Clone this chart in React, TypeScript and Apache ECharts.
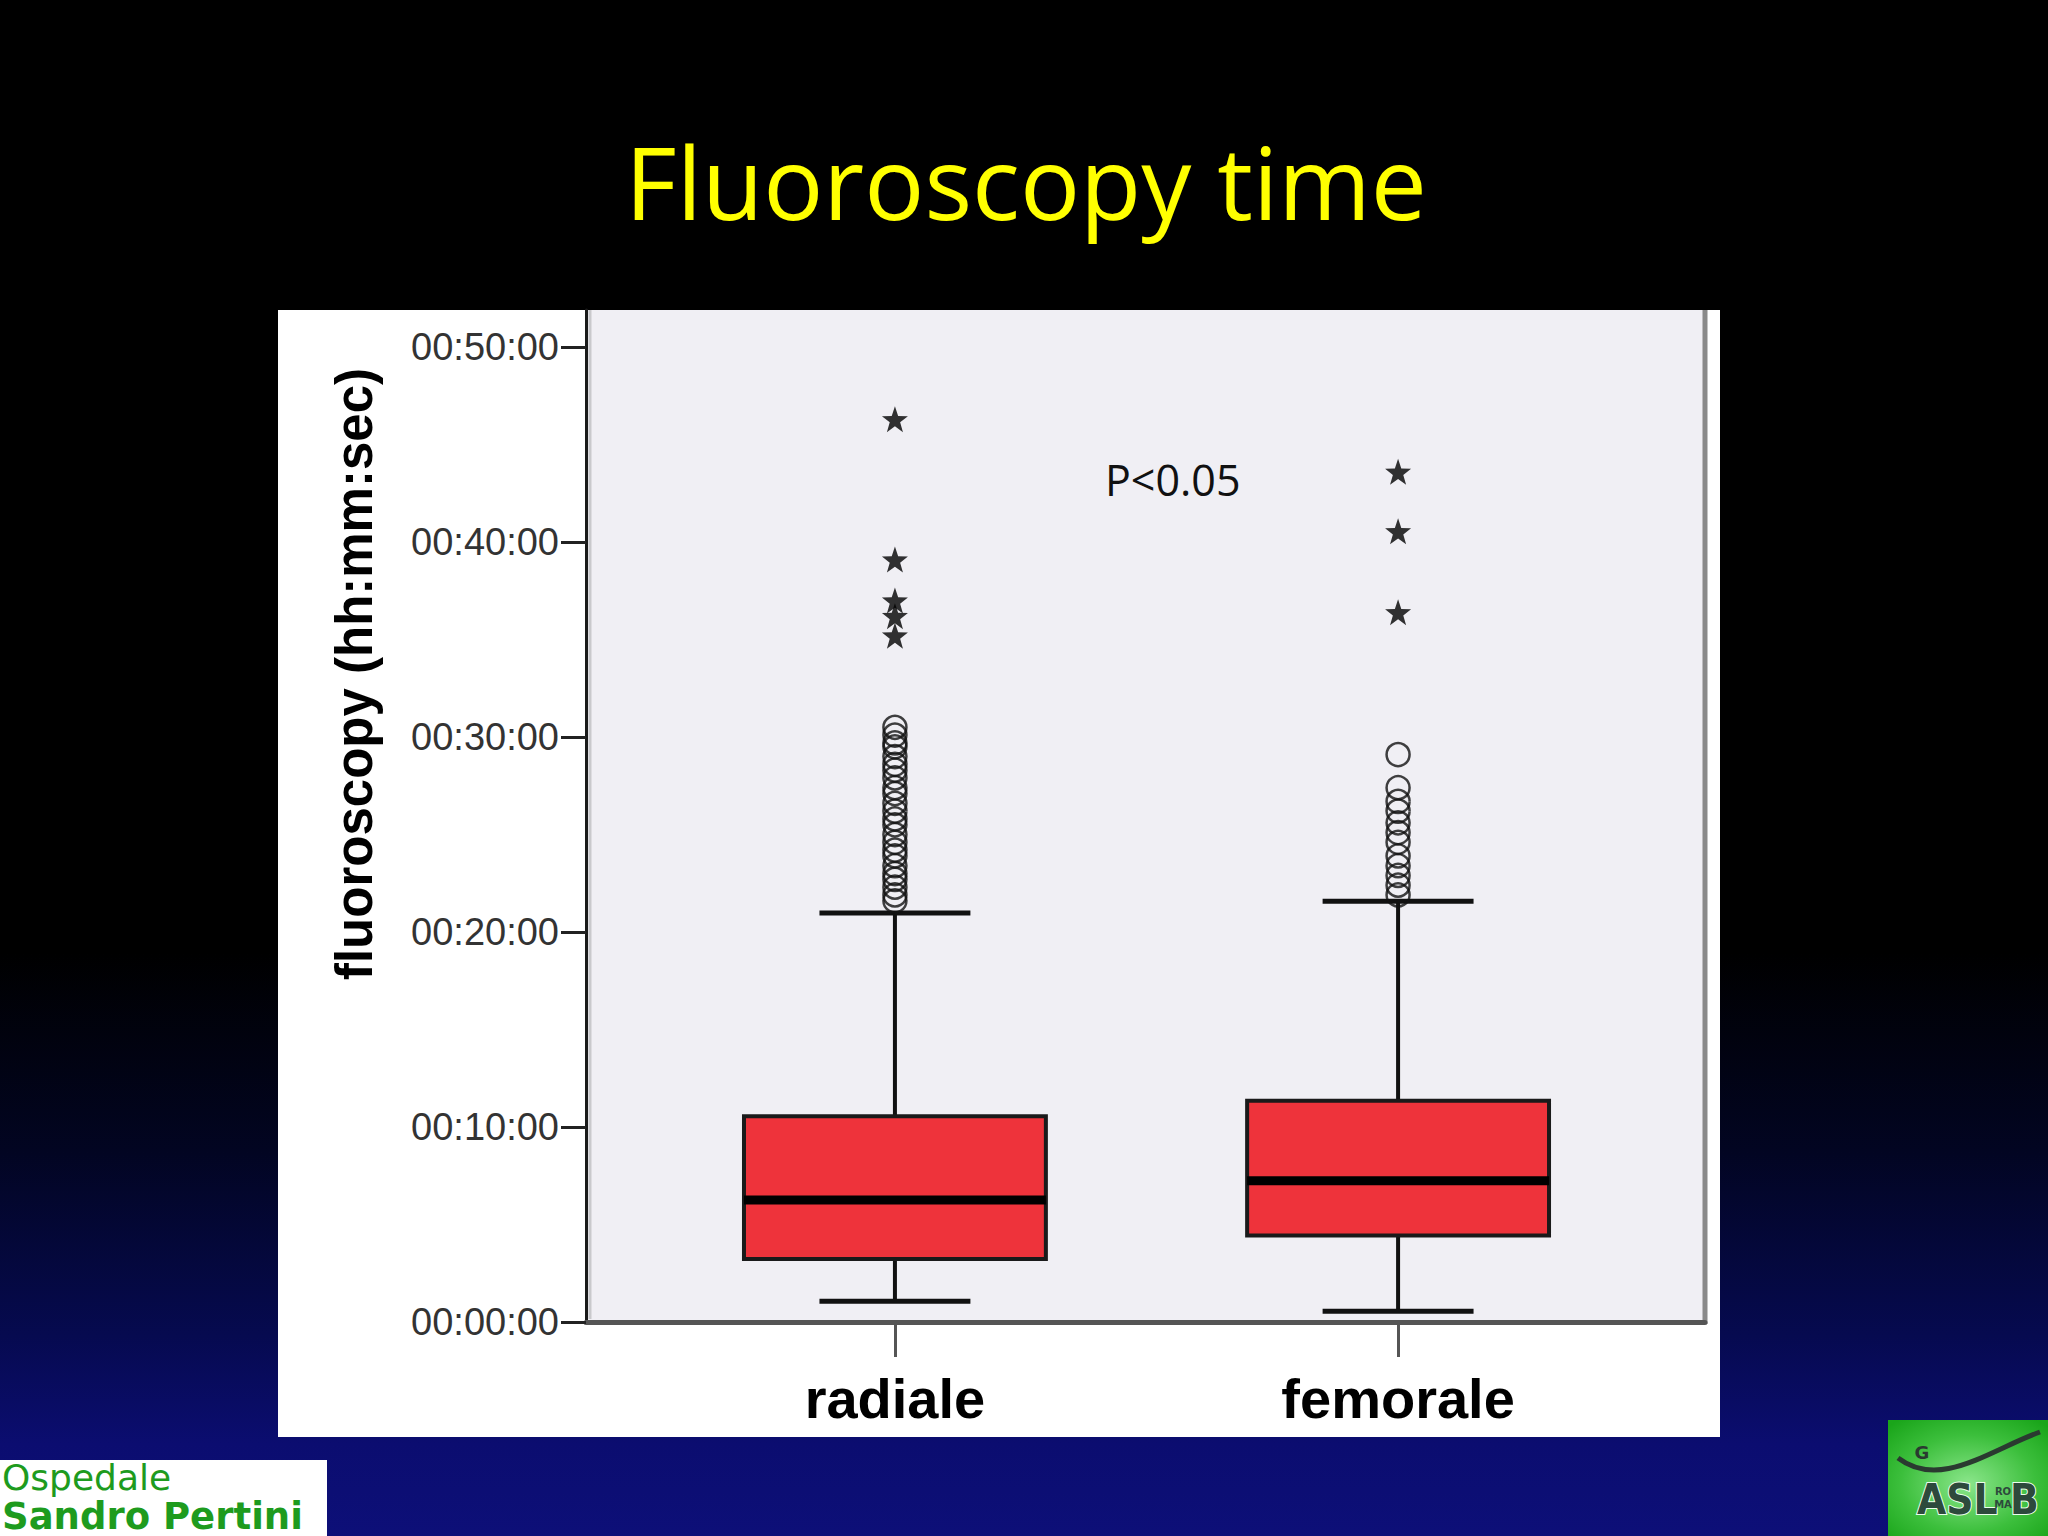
import React, { useEffect, useRef } from "react";
import * as echarts from "echarts";

// ---------- data (minutes) ----------
const categories = ["radiale", "femorale"];
// [lower whisker, Q1, median, Q3, upper whisker]
const radialeBox = [1.06, 3.23, 6.26, 10.55, 20.98];
const femoraleBox = [0.55, 4.43, 7.25, 11.35, 21.58];
const radialeCircles = [
  30.5, 30.1, 29.7, 29.5, 29.0, 28.6, 28.3, 27.9, 27.4, 27.1, 26.6, 26.2,
  25.8, 25.5, 25.0, 24.6, 24.2, 23.9, 23.4, 23.0, 22.7, 22.3, 21.9, 21.6,
];
const radialeStars = [46.3, 39.1, 37.0, 36.2, 35.2];
const femoraleCircles = [29.1, 27.4, 26.7, 26.2, 25.6, 25.1, 24.6, 23.9, 23.4, 22.9, 22.4, 21.9];
const femoraleStars = [43.6, 40.55, 36.4];
const yTickValues = [0, 10, 20, 30, 40, 50];
const yTickLabels = ["00:00:00", "00:10:00", "00:20:00", "00:30:00", "00:40:00", "00:50:00"];

// ---------- layout ----------
const W = 2048;
const H = 1536;
const GRID_L = 586;
const GRID_T = 310;
const GRID_R = 1705;
const GRID_B = 1322;
const BOX_W = 0.6;
const CAP_W = 0.3;
const STAR =
  "path://M50,0 L61.76,33.82 L97.55,34.55 L69.02,56.18 L79.39,90.45 L50,70 L20.61,90.45 L30.98,56.18 L2.45,34.55 L38.24,33.82 Z";

export default function App() {
  const ref = useRef<HTMLDivElement>(null);

  useEffect(() => {
    if (!ref.current) return;
    const chart = echarts.init(ref.current, null, { renderer: "svg" });

    const boxes = [radialeBox, femoraleBox];
    const circleData = [
      ...radialeCircles.map((v) => [0, v]),
      ...femoraleCircles.map((v) => [1, v]),
    ];
    const starData = [
      ...radialeStars.map((v) => [0, v]),
      ...femoraleStars.map((v) => [1, v]),
    ];

    const option: any = {
      animation: false,
      backgroundColor: {
        type: "linear",
        x: 0,
        y: 0,
        x2: 0,
        y2: 1,
        colorStops: [
          { offset: 0, color: "#000000" },
          { offset: 0.62, color: "#000000" },
          { offset: 0.75, color: "#020522" },
          { offset: 0.87, color: "#060a50" },
          { offset: 0.94, color: "#0b0d70" },
          { offset: 1, color: "#0d0f78" },
        ],
      },
      grid: {
        left: GRID_L,
        top: GRID_T,
        right: W - GRID_R,
        bottom: H - GRID_B,
        containLabel: false,
      },
      xAxis: {
        type: "value",
        min: -0.614,
        max: 1.61,
        splitLine: { show: false },
        axisLine: { show: true, onZero: false, lineStyle: { color: "#555555", width: 5 } },
        axisTick: {
          show: true,
          customValues: [0, 1],
          length: 35,
          lineStyle: { color: "#555555", width: 3 },
        },
        axisLabel: {
          customValues: [0, 1],
          formatter: (v: number) => categories[Math.round(v)] ?? "",
          fontSize: 56,
          lineHeight: 56,
          fontWeight: "bold",
          fontFamily: "Liberation Sans, Arial, sans-serif",
          color: "#000000",
          margin: 48,
        },
      },
      yAxis: {
        type: "value",
        min: 0,
        max: 51.9,
        splitLine: { show: false },
        axisLine: { show: true, onZero: false, lineStyle: { color: "#1a1a1a", width: 3 } },
        axisTick: {
          show: true,
          customValues: yTickValues,
          length: 25,
          lineStyle: { color: "#222222", width: 3 },
        },
        axisLabel: {
          customValues: yTickValues,
          formatter: (v: number) => yTickLabels[yTickValues.indexOf(v)] ?? "",
          fontSize: 38,
          fontFamily: "Liberation Sans, Arial, sans-serif",
          color: "#333333",
          margin: 27,
        },
      },
      graphic: [
        // white panel
        {
          type: "rect",
          z: -10,
          shape: { x: 278, y: 310, width: 1442, height: 1127 },
          style: { fill: "#ffffff" },
        },
        // plot background
        {
          type: "rect",
          z: -9,
          shape: { x: GRID_L, y: GRID_T, width: GRID_R - GRID_L, height: GRID_B - GRID_T },
          style: { fill: "#f0eff4" },
        },
        // inner light line next to y axis
        {
          type: "line",
          z: -8,
          shape: { x1: GRID_L + 4, y1: GRID_T, x2: GRID_L + 4, y2: GRID_B - 3 },
          style: { stroke: "#c9c9cc", lineWidth: 3 },
        },
        // right border
        {
          type: "line",
          z: -8,
          shape: { x1: GRID_R, y1: GRID_T, x2: GRID_R, y2: GRID_B + 2 },
          style: { stroke: "#8a8a8a", lineWidth: 5 },
        },
        // title
        {
          type: "text",
          x: 1026,
          y: 181,
          style: {
            text: "Fluoroscopy time",
            fontSize: 100,
            fontFamily: "Open Sans, Noto Sans, sans-serif",
            fill: "#ffff00",
            align: "center",
            verticalAlign: "middle",
          },
        },
        // y axis name
        {
          type: "text",
          x: 354,
          y: 674,
          rotation: Math.PI / 2,
          style: {
            text: "fluoroscopy (hh:mm:sec)",
            fontSize: 51,
            fontWeight: "bold",
            fontFamily: "Liberation Sans, Arial, sans-serif",
            fill: "#000000",
            align: "center",
            verticalAlign: "middle",
          },
        },
        // p-value
        {
          type: "text",
          x: 1105,
          y: 479,
          z: 10,
          style: {
            text: "P<0.05",
            fontSize: 43,
            fontFamily: "Open Sans, Noto Sans, sans-serif",
            fill: "#111111",
            align: "left",
            verticalAlign: "middle",
          },
        },
        // bottom-left logo
        {
          type: "rect",
          shape: { x: 0, y: 1460, width: 327, height: 76 },
          style: { fill: "#ffffff" },
        },
        {
          type: "text",
          x: 2,
          y: 1477,
          style: {
            text: "Ospedale",
            fontSize: 36,
            lineHeight: 36,
            fontFamily: "DejaVu Sans, sans-serif",
            fill: "#1e9b1e",
            align: "left",
            verticalAlign: "middle",
          },
        },
        {
          type: "text",
          x: 2,
          y: 1516,
          style: {
            text: "Sandro Pertini",
            fontSize: 37,
            lineHeight: 37,
            fontWeight: "bold",
            fontFamily: "DejaVu Sans, sans-serif",
            fill: "#1e9b1e",
            align: "left",
            verticalAlign: "middle",
          },
        },
        // bottom-right logo
        {
          type: "rect",
          shape: { x: 1888, y: 1420, width: 160, height: 116 },
          style: {
            fill: {
              type: "radial",
              x: 0.5,
              y: 0.55,
              r: 0.7,
              colorStops: [
                { offset: 0, color: "#8be68b" },
                { offset: 0.6, color: "#3cbf3c" },
                { offset: 1, color: "#1aa51a" },
              ],
            },
          },
        },
        {
          type: "bezierCurve",
          shape: { x1: 1898, y1: 1458, cpx1: 1940, cpy1: 1490, cpx2: 1990, cpy2: 1450, x2: 2040, y2: 1432 },
          style: { stroke: "#2a3a30", lineWidth: 5, fill: null },
        },
        {
          type: "text",
          x: 1922,
          y: 1452,
          style: { text: "G", fontSize: 18, fontWeight: "bold", fontFamily: "DejaVu Sans", fill: "#2a3a30", align: "center", verticalAlign: "middle" },
        },
        {
          type: "text",
          x: 1917,
          y: 1499,
          style: {
            text: "ASL",
            fontSize: 42,
            fontWeight: "bold",
            fontFamily: "DejaVu Sans Condensed, DejaVu Sans, sans-serif",
            fill: "#2d4a3c",
            stroke: "#eaffea",
            lineWidth: 2,
            align: "left",
            verticalAlign: "middle",
          },
        },
        {
          type: "text",
          x: 2003,
          y: 1491,
          style: { text: "RO", fontSize: 10, fontWeight: "bold", fontFamily: "DejaVu Sans", fill: "#2d4a3c", align: "center", verticalAlign: "middle" },
        },
        {
          type: "text",
          x: 2003,
          y: 1504,
          style: { text: "MA", fontSize: 10, fontWeight: "bold", fontFamily: "DejaVu Sans", fill: "#2d4a3c", align: "center", verticalAlign: "middle" },
        },
        {
          type: "text",
          x: 2010,
          y: 1499,
          style: {
            text: "B",
            fontSize: 42,
            fontWeight: "bold",
            fontFamily: "DejaVu Sans Condensed, DejaVu Sans, sans-serif",
            fill: "#2d4a3c",
            stroke: "#eaffea",
            lineWidth: 2,
            align: "left",
            verticalAlign: "middle",
          },
        },
      ],
      series: [
        {
          type: "custom",
          data: boxes.map((b, i) => [i, ...b]),
          encode: { x: 0, y: [1, 2, 3, 4, 5] },
          renderItem: (params: any, api: any) => {
            const x = api.value(0);
            const lo = api.coord([x, api.value(1)]);
            const q1 = api.coord([x, api.value(2)]);
            const med = api.coord([x, api.value(3)]);
            const q3 = api.coord([x, api.value(4)]);
            const hi = api.coord([x, api.value(5)]);
            const hb = api.size([BOX_W, 0])[0] / 2;
            const hc = api.size([CAP_W, 0])[0] / 2;
            const cx = lo[0];
            const lineStyle = { stroke: "#111111", lineWidth: 4 };
            const capStyle = { stroke: "#111111", lineWidth: 5 };
            return {
              type: "group",
              children: [
                { type: "line", shape: { x1: cx, y1: lo[1], x2: cx, y2: q1[1] }, style: lineStyle },
                { type: "line", shape: { x1: cx, y1: q3[1], x2: cx, y2: hi[1] }, style: lineStyle },
                { type: "line", shape: { x1: cx - hc, y1: lo[1], x2: cx + hc, y2: lo[1] }, style: capStyle },
                { type: "line", shape: { x1: cx - hc, y1: hi[1], x2: cx + hc, y2: hi[1] }, style: capStyle },
                {
                  type: "rect",
                  shape: { x: cx - hb, y: q3[1], width: hb * 2, height: q1[1] - q3[1] },
                  style: { fill: "#ee333b", stroke: "#1a1a1a", lineWidth: 4 },
                },
                {
                  type: "line",
                  shape: { x1: cx - hb, y1: med[1], x2: cx + hb, y2: med[1] },
                  style: { stroke: "#000000", lineWidth: 9 },
                },
              ],
            };
          },
        },
        {
          type: "scatter",
          data: circleData,
          symbol: "circle",
          symbolSize: 23,
          itemStyle: { color: "rgba(0,0,0,0)", borderColor: "#111111", borderWidth: 2.5 },
          z: 5,
        },
        {
          type: "scatter",
          data: starData,
          symbol: STAR,
          symbolSize: 26,
          itemStyle: { color: "#000000" },
          z: 5,
        },
      ],
    };

    chart.setOption(option);
    return () => chart.dispose();
  }, []);

  return (
    <div
      ref={ref}
      style={{ position: "fixed", left: 0, top: 0, width: W, height: H }}
    />
  );
}
